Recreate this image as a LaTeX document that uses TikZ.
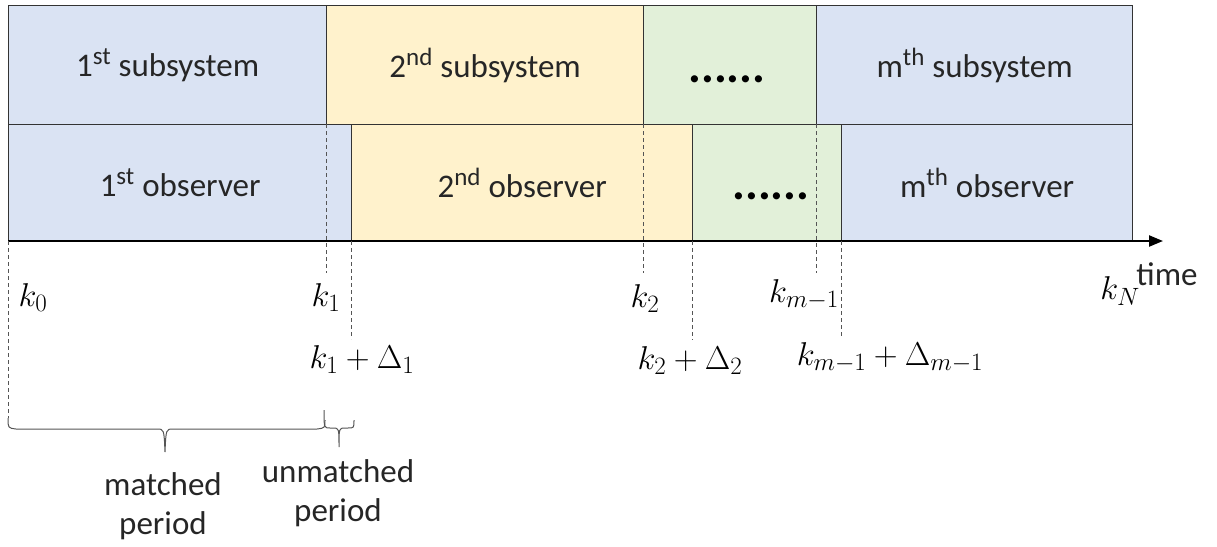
\documentclass[tikz,border=0pt]{standalone}
\usepackage{fix-cm}
\usepackage{fontspec}
\setmainfont{Carlito}
\usetikzlibrary{arrows.meta}
\DeclareMathSizes{33}{33}{25}{19}
\definecolor{cblue}{HTML}{DAE3F3}
\definecolor{cyellow}{HTML}{FFF2CC}
\definecolor{cgreen}{HTML}{E2F0D9}
\definecolor{cline}{HTML}{333333}
\definecolor{cdash}{HTML}{555555}
\begin{document}
\begin{tikzpicture}[x=1pt,y=-1pt,
  box/.style={draw=cline, line width=1.3pt, inner sep=0pt, anchor=north west,
    font=\fontsize{33}{40}\selectfont, text=black!85},
  toprow/.style={box, minimum height=119pt},
  botrow/.style={box, minimum height=117pt},
  dotstext/.style={inner sep=0pt, font=\fontsize{48}{48}\selectfont\bfseries},
  dashline/.style={draw=cdash, line width=0.9pt, dash pattern=on 4pt off 3pt},
  mlabel/.style={inner sep=0pt, font=\fontsize{33}{39}\selectfont},
  tlabel/.style={inner sep=0pt, align=center, font=\fontsize{33}{39}\selectfont, text=black!85},
  bracestyle/.style={draw=cdash, line width=1pt},
  axis/.style={draw=black, line width=2.2pt, -{Triangle[length=14pt,width=11pt]}}
]
\useasboundingbox (0,0) rectangle (1217,546);

% top row
\node[toprow, fill=cblue,   minimum width=318pt] (s1) at (8,5)   {1\textsuperscript{st} subsystem};
\node[toprow, fill=cyellow, minimum width=317pt] (s2) at (326,5) {2\textsuperscript{nd} subsystem};
\node[toprow, fill=cgreen,  minimum width=173pt] (s3) at (643,5) {};
\node[toprow, fill=cblue,   minimum width=316pt] (s4) at (816,5) {m\textsuperscript{th} subsystem};
% bottom row
\node[botrow, fill=cblue,   minimum width=343pt] (o1) at (8,124)   {1\textsuperscript{st} observer};
\node[botrow, fill=cyellow, minimum width=341pt] (o2) at (351,124) {2\textsuperscript{nd} observer};
\node[botrow, fill=cgreen,  minimum width=149pt] (o3) at (692,124) {};
\node[botrow, fill=cblue,   minimum width=291pt] (o4) at (841,124) {m\textsuperscript{th} observer};

\node[dotstext, anchor=base] (d1) at (727,82) {......};
\node[dotstext, anchor=base] (d2) at (771,199) {......};

% axis
\coordinate (axL) at (8,241);
\coordinate (axR) at (1163,241);
\draw[axis] (axL) -- (axR);

% dashed markers
\coordinate (k0a) at (8,241);   \coordinate (k0b) at (8,418);
\coordinate (k1a) at (326,124); \coordinate (k1b) at (326,273);
\coordinate (d1a) at (351,241); \coordinate (d1b) at (351,339);
\coordinate (k2a) at (643,124); \coordinate (k2b) at (643,273);
\coordinate (d2a) at (692,241); \coordinate (d2b) at (692,340);
\coordinate (kma) at (816,124); \coordinate (kmb) at (816,273);
\coordinate (dma) at (841,241); \coordinate (dmb) at (841,337);
\draw[dashline] (k0a) -- (k0b);
\draw[dashline] (k1a) -- (k1b);
\draw[dashline] (d1a) -- (d1b);
\draw[dashline] (k2a) -- (k2b);
\draw[dashline] (d2a) -- (d2b);
\draw[dashline] (kma) -- (kmb);
\draw[dashline] (dma) -- (dmb);

% labels
\node[mlabel] (lk0) at (33,298) {$k_0$};
\node[mlabel] (lk1) at (326,298) {$k_1$};
\node[mlabel] (lk1d) at (362,360) {$k_1+\Delta_1$};
\node[mlabel] (lk2) at (645,299) {$k_2$};
\node[mlabel] (lk2d) at (690,361) {$k_2+\Delta_2$};
\node[mlabel] (lkm) at (804,295) {$k_{m-1}$};
\node[mlabel] (lkmd) at (890,358) {$k_{m-1}+\Delta_{m-1}$};
\node[mlabel] (lkN) at (1120,291) {$k_N$};
\node[tlabel] (time) at (1167,274) {time};

% braces
\draw[bracestyle] (8,418) .. controls (8,428) .. (16,429) -- (157,429)
  .. controls (164,429) .. (165,452) .. controls (166,429) .. (173,429)
  -- (317,429) .. controls (325,428) .. (325,420);
\draw[bracestyle] (324,410) .. controls (324,428) .. (330,428) -- (333,428)
  .. controls (339,428) .. (339,447) .. controls (339,428) .. (345,428)
  -- (348,428) .. controls (354,428) .. (354,420);

\node[tlabel] (matched) at (163,506) {matched\\period};
\node[tlabel] (unmatched) at (338,493) {unmatched\\period};
\end{tikzpicture}
\end{document}
